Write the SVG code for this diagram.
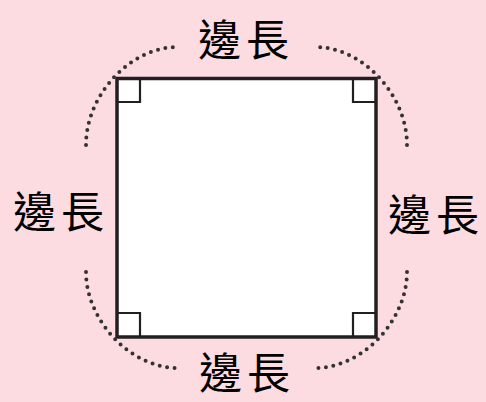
<svg xmlns="http://www.w3.org/2000/svg" width="486" height="402" viewBox="0 0 486 402">
<style>
.lbl{font-family:"Noto Sans CJK TC","Noto Sans CJK SC",sans-serif;font-size:43px;fill:#000;text-anchor:middle;letter-spacing:5px}
.dot{fill:none;stroke:#333;stroke-width:4;stroke-linecap:round;stroke-dasharray:0 7.5}
.ra{fill:none;stroke:#231f20;stroke-width:2.2}
</style>
<rect width="486" height="402" fill="#fcdce0"/>
<g id="square">
<rect x="117" y="78.5" width="259" height="258.5" fill="#fff" stroke="#231f20" stroke-width="3.5"/>
<path class="ra" d="M117,102 H140 V78.5"/>
<path class="ra" d="M376,102 H353 V78.5"/>
<path class="ra" d="M117,313 H140 V337"/>
<path class="ra" d="M376,313 H353 V337"/>
</g>
<g id="connectors">
<path class="dot" d="M86,145 C86,95 130,47 178,47"/>
<path class="dot" d="M407,145 C407,95 363,47 315,47"/>
<path class="dot" d="M86,272 C86,320 130,368 178,368"/>
<path class="dot" d="M407,272 C407,320 363,368 315,368"/>
</g>
<g id="label-top"><text class="lbl" x="246" y="56">邊長</text></g>
<g id="label-left"><text class="lbl" x="61" y="228">邊長</text></g>
<g id="label-right"><text class="lbl" x="436" y="231">邊長</text></g>
<g id="label-bottom"><text class="lbl" x="247" y="389">邊長</text></g>
</svg>
